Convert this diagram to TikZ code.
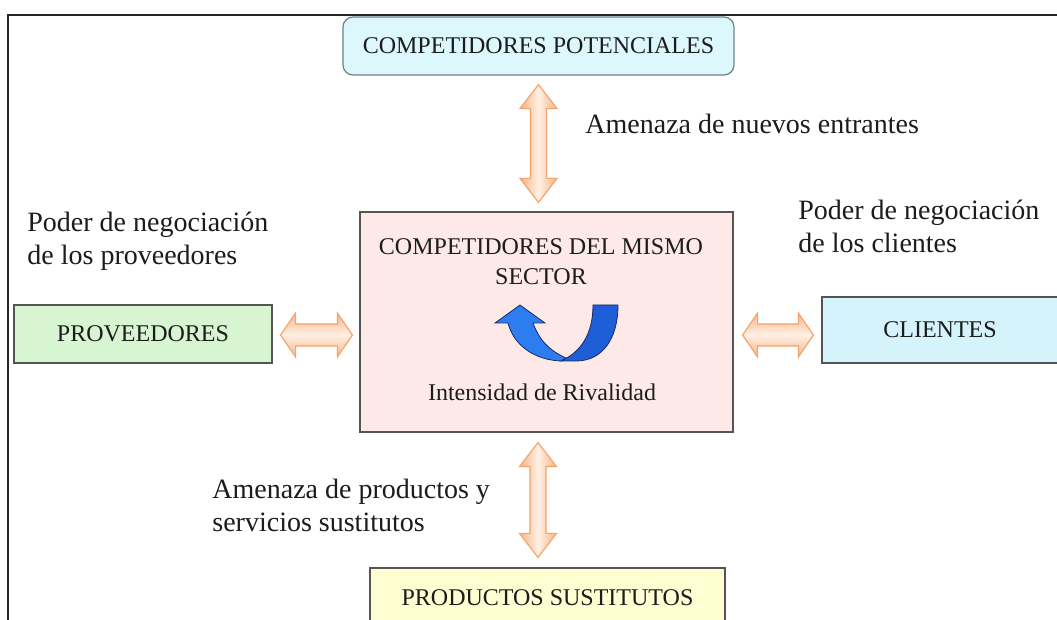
\documentclass[tikz,border=0pt]{standalone}
\usepackage{fontspec}
\setmainfont{Liberation Serif}
\usetikzlibrary{calc}
\definecolor{cyanbox}{HTML}{DCF8FC}
\definecolor{cyanboxb}{HTML}{D4F3FB}
\definecolor{pinkbox}{HTML}{FDE9E8}
\definecolor{greenbox}{HTML}{D6F5D0}
\definecolor{yellowbox}{HTML}{FEFED2}
\definecolor{boxline}{HTML}{555555}
\definecolor{cpline}{HTML}{6A8486}
\definecolor{txt}{HTML}{1C1C1C}
\definecolor{arrO}{HTML}{F8B486}
\definecolor{arrL}{HTML}{FEF0E4}
\definecolor{arrB}{HTML}{F4A46C}
\definecolor{blueA}{HTML}{2B7DF0}
\definecolor{blueB}{HTML}{1E5ED6}
\definecolor{blueL}{HTML}{1A2A66}
\newcommand\VArrow[2]{%
  \shadedraw[varrow] (#1) -- ([shift={(18.5,24)}]#1) -- ([shift={(8,24)}]#1)
    -- ([shift={(8,-24)}]#2) -- ([shift={(18.5,-24)}]#2) -- (#2)
    -- ([shift={(-18.5,-24)}]#2) -- ([shift={(-8,-24)}]#2)
    -- ([shift={(-8,24)}]#1) -- ([shift={(-18.5,24)}]#1) -- cycle;}
\newcommand\HArrow[2]{%
  \shadedraw[harrow] (#1) -- ([shift={(15,-22)}]#1) -- ([shift={(15,-11)}]#1)
    -- ([shift={(-15,-11)}]#2) -- ([shift={(-15,-22)}]#2) -- (#2)
    -- ([shift={(-15,22)}]#2) -- ([shift={(-15,11)}]#2)
    -- ([shift={(15,11)}]#1) -- ([shift={(15,22)}]#1) -- cycle;}
\begin{document}
\begin{tikzpicture}[x=0.5pt,y=-0.5pt,
  box/.style={draw=boxline, line width=0.6pt, inner sep=0pt, text=txt,
    font=\fontsize{12}{15}\selectfont, align=center},
  inbox/.style={inner sep=0pt, text=txt, font=\fontsize{12}{15}\selectfont, align=center},
  lab/.style={inner sep=0pt, text=txt, font=\fontsize{14}{16.5}\selectfont,
    align=left, anchor=west},
  varrow/.style={draw=arrB, line width=0.6pt, left color=arrO, right color=arrO, middle color=arrL},
  harrow/.style={draw=arrB, line width=0.6pt, top color=arrO, bottom color=arrO, middle color=arrL}]
\clip (0,0) rectangle (1057,620);
\fill[white] (0,0) rectangle (1057,620);
% outer frame
\draw[line width=0.9pt, draw=black!85] (8,640) -- (8,15) -- (1070,15);
% boxes
\node[box, draw=cpline, fill=cyanbox, rounded corners=5pt, minimum width=195.5pt, minimum height=29pt] (cp) at (538.5,46) {COMPETIDORES POTENCIALES};
\node[box, fill=pinkbox, minimum width=186.5pt, minimum height=110pt] (cs) at (546.5,322) {};
\node[inbox] (cst) at (541,262) {COMPETIDORES DEL MISMO\\SECTOR};
\node[inbox] (riv) at (542,392) {Intensidad de Rivalidad};
\node[box, fill=greenbox, minimum width=129pt, minimum height=29pt] (prov) at (143,334) {PROVEEDORES};
\node[box, fill=cyanboxb, minimum width=118pt, minimum height=33pt] (cli) at (940,330) {CLIENTES};
\node[box, fill=yellowbox, minimum width=177.5pt, minimum height=30pt] (ps) at (547.5,598) {PRODUCTOS SUSTITUTOS};
% labels
\node[lab] (l1) at (585,124) {Amenaza de nuevos entrantes};
\node[lab] (l2) at (27,241.5) {Poder de negociación\\de los proveedores};
\node[lab] (l3) at (798,226) {Poder de negociación\\de los clientes};
\node[lab] (l4) at (212,505.5) {Amenaza de productos y\\servicios sustitutos};
% arrow end points
\coordinate (t1) at ($(cp.south)+(0,9)$);
\coordinate (t2) at ($(cp.south |- cs.north)+(0,-9)$);
\coordinate (b1) at ($(t1 |- cs.south)+(-0.5,10)$);
\coordinate (b2) at ($(t1 |- ps.north)+(-0.5,-10)$);
\coordinate (w1) at ($(prov.east)+(8,1)$);
\coordinate (w2) at ($(cs.west |- w1)+(-7,0)$);
\coordinate (e1) at ($(cs.east |- w1)+(9,0)$);
\coordinate (e2) at ($(cli.west |- w1)+(-8,0)$);
\VArrow{t1}{t2}
\VArrow{b1}{b2}
\HArrow{w1}{w2}
\HArrow{e1}{e2}
% U-turn arrow
\filldraw[fill=blueB, draw=blueL, line width=0.4pt]
  (593,305) -- (618,305) .. controls (618,338) and (603,361) .. (576,361)
  -- (561,361) .. controls (581,352) and (593,334) .. (593,305) -- cycle;
\filldraw[fill=blueA, draw=blueL, line width=0.4pt]
  (520,305) -- (545,323) -- (533,323) .. controls (539,340) and (550,351) .. (566,358)
  -- (561,361) .. controls (535,360) and (514,346) .. (508,323) -- (495,323) -- cycle;
\end{tikzpicture}
\end{document}
